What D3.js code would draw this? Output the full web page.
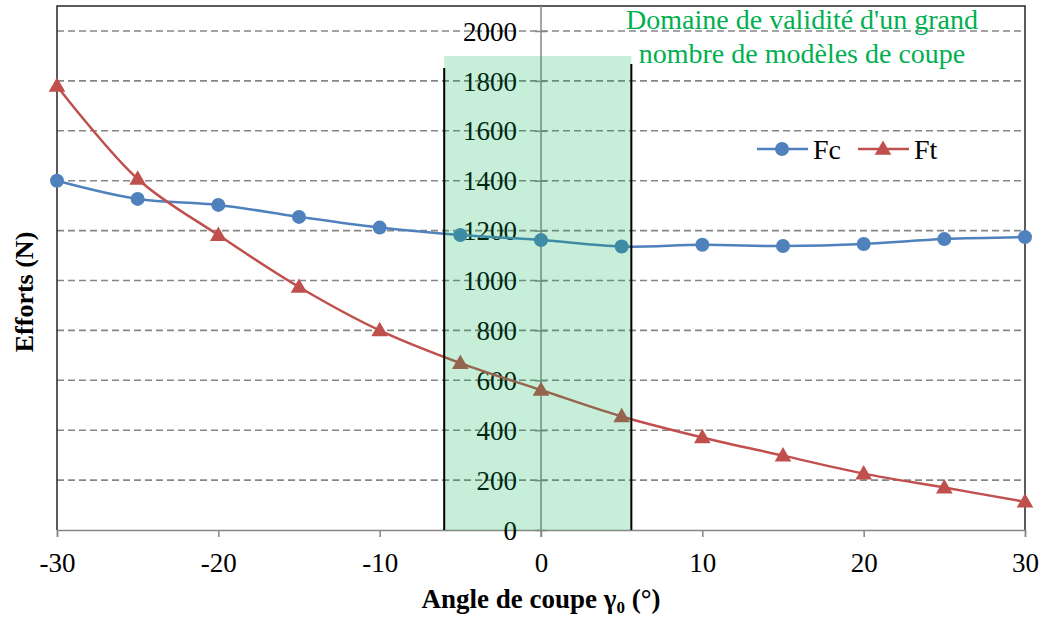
<!DOCTYPE html>
<html><head><meta charset="utf-8">
<script src="https://cdn.jsdelivr.net/npm/d3@7"></script>
<style>body{margin:0;background:#fff}svg{display:block}</style>
</head><body><svg id="c" width="1043" height="618"></svg>
<script>
const angles = [-30,-25,-20,-15,-10,-5,0,5,10,15,20,25,30];
const fc = [1400,1327,1303,1255,1212,1182,1162,1136,1143,1138,1146,1166,1174];
const ft = [1780,1407,1182,974,800,669,561,455,371,298,226,170,113];
const xTicks = [-30,-20,-10,0,10,20,30];
const yTicks = [0,200,400,600,800,1000,1200,1400,1600,1800,2000];
const zoneX = [-6.0, 5.6];
const zoneTop = 1900;
const zoneLineTop = [1852, 1868];
const zoneText = ["Domaine de validité d'un grand", "nombre de modèles de coupe"];
const seriesNames = ["Fc","Ft"];

const svg = d3.select("#c");
const x = d3.scaleLinear().domain([-30,30]).range([57,1025]);
const y = d3.scaleLinear().domain([0,2000]).range([530,31]);
const serif = "'Liberation Serif','Times New Roman',serif";
const blue = "#4f81bd", red = "#c0504d", grid = "#868686";

// gridlines
svg.append("g").selectAll("line").data(yTicks.filter(d=>d>0)).join("line")
  .attr("x1",x(-30)).attr("x2",x(30)).attr("y1",d=>y(d)).attr("y2",d=>y(d))
  .attr("stroke",grid).attr("stroke-width",1.6).attr("stroke-dasharray","7,4");

// plot border (left, top, right)
svg.append("path").attr("d",`M${x(-30)},${y(0)}V6H${x(30)}V${y(0)}`)
  .attr("fill","none").attr("stroke","#262626").attr("stroke-width",1.5);

// x axis
const xa = svg.append("g").attr("transform",`translate(0,${y(0)})`)
  .call(d3.axisBottom(x).tickValues(xTicks).tickSize(7).tickFormat(d3.format("d")));
xa.select(".domain").attr("stroke",grid).attr("stroke-width",1.5);
xa.selectAll(".tick line").attr("stroke",grid).attr("stroke-width",1.5);
xa.selectAll(".tick text").attr("font-family",serif).attr("font-size",27).attr("fill","#000").attr("dy","0.55em").attr("y",27)
  .text(d=>d<0?"-"+Math.abs(d):d);

// y axis at x=0
const ya = svg.append("g").attr("transform",`translate(${x(0)},0)`)
  .call(d3.axisLeft(y).tickValues(yTicks).tickSize(0).tickPadding(24).tickFormat(d3.format("d")));
ya.select(".domain").remove();
ya.selectAll(".tick").append("line").attr("x1",-6).attr("x2",6).attr("stroke",grid).attr("stroke-width",1.5);
ya.selectAll(".tick text").attr("font-family",serif).attr("font-size",27).attr("fill","#000").attr("dy","0.34em");
svg.append("line").attr("x1",x(0)).attr("x2",x(0)).attr("y1",6).attr("y2",y(0)+7)
  .attr("stroke",grid).attr("stroke-width",1.5);

// series
const line = d3.line().x(d=>x(d[0])).y(d=>y(d[1])).curve(d3.curveCatmullRom.alpha(0.5));
svg.append("path").datum(angles.map((a,i)=>[a,fc[i]])).attr("d",line)
  .attr("fill","none").attr("stroke",blue).attr("stroke-width",2.5);
svg.append("path").datum(angles.map((a,i)=>[a,ft[i]])).attr("d",line)
  .attr("fill","none").attr("stroke",red).attr("stroke-width",2.5);
svg.append("g").selectAll("circle").data(angles.map((a,i)=>[a,fc[i]])).join("circle")
  .attr("cx",d=>x(d[0])).attr("cy",d=>y(d[1])).attr("r",7).attr("fill",blue);
const tri = d3.symbol().type(d3.symbolTriangle).size(120);
svg.append("g").selectAll("path").data(angles.map((a,i)=>[a,ft[i]])).join("path")
  .attr("d",tri).attr("transform",d=>`translate(${x(d[0])},${y(d[1])+1})`).attr("fill",red);

// validity zone (semi-transparent overlay)
svg.append("rect").attr("x",x(zoneX[0])).attr("width",x(zoneX[1])-x(zoneX[0]))
  .attr("y",y(zoneTop)).attr("height",y(0)-y(zoneTop)).attr("fill","#00b050").attr("fill-opacity",0.22);
zoneX.forEach((v,i)=>{
  svg.append("line").attr("x1",x(v)).attr("x2",x(v)).attr("y1",y(zoneLineTop[i])).attr("y2",y(0))
    .attr("stroke","#000").attr("stroke-width",2);
});
svg.append("text").attr("x",802).attr("font-family",serif).attr("font-size",28).attr("fill","#00b050")
  .attr("text-anchor","middle").selectAll("tspan").data(zoneText).join("tspan")
  .attr("x",802).attr("y",(d,i)=>29+i*34).text(d=>d);

// legend
const lg = svg.append("g");
[[757,blue,"circle"],[858,red,"tri"]].forEach(([lx,col,m],i)=>{
  lg.append("line").attr("x1",lx).attr("x2",lx+51).attr("y1",149).attr("y2",149).attr("stroke",col).attr("stroke-width",2.5);
  if(m==="circle") lg.append("circle").attr("cx",lx+25).attr("cy",149).attr("r",7).attr("fill",col);
  else lg.append("path").attr("d",tri).attr("transform",`translate(${lx+25},${150})`).attr("fill",col);
  lg.append("text").attr("x",lx+56).attr("y",159).attr("font-family",serif).attr("font-size",28).attr("fill","#000").text(seriesNames[i]);
});

// axis titles
const xt = svg.append("text").attr("x",541).attr("y",608).attr("text-anchor","middle")
  .attr("font-family",serif).attr("font-size",27).attr("font-weight","bold").attr("fill","#000");
xt.append("tspan").text("Angle de coupe γ");
xt.append("tspan").attr("font-size",17).attr("dy",5).text("0");
xt.append("tspan").attr("dy",-5).text(" (°)");
svg.append("text").attr("transform","translate(33,292) rotate(-90)").attr("text-anchor","middle")
  .attr("font-family",serif).attr("font-size",26).attr("font-weight","bold").attr("fill","#000").text("Efforts (N)");
</script></body></html>
